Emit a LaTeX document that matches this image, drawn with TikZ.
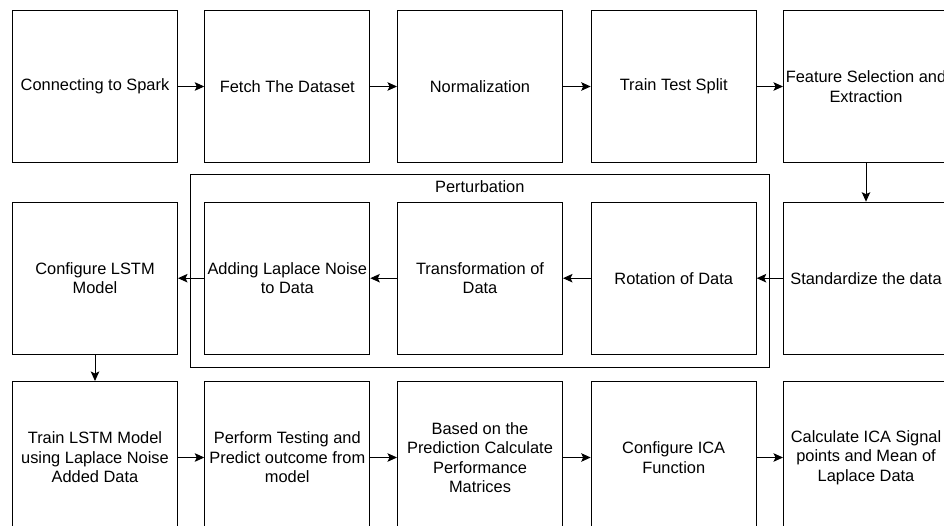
\documentclass[tikz,border=0pt]{standalone}
\usepackage{fontspec}
\setmainfont{Liberation Sans}
\usetikzlibrary{arrows.meta}
\begin{document}
\begin{tikzpicture}[x=1pt,y=-1pt,
  box/.style={draw, line width=1pt, minimum width=165pt, minimum height=152pt,
    inner sep=0pt, align=center, anchor=north west,
    font=\fontsize{16.4}{19.5}\selectfont},
  flow/.style={draw, line width=1pt, -{Stealth[length=9.5pt,width=8.5pt,inset=2pt]}},
  lbl/.style={font=\fontsize{16.4}{19.5}\selectfont, inner sep=0pt}
]
\useasboundingbox (0,0) rectangle (944,526);
\fill[white] (0,0) rectangle (944,526);

% perturbation group
\node[draw, line width=1pt, minimum width=579pt, minimum height=192.4pt,
      inner sep=0pt, anchor=north west] (pert) at (190.3,174.3) {};
\node[lbl] (pertlabel) at (479.8,186.7) {Perturbation};

% row 1
\node[box] (a1) at (12,10)    {Connecting to Spark};
\node[box] (a2) at (204.3,10) {Fetch The Dataset};
\node[box] (a3) at (397,10)   {Normalization};
\node[box] (a4) at (590.7,10) {Train Test Split};
\node[box] (a5) at (783,10)   {Feature Selection and\\Extraction};

% row 2
\node[box] (b1) at (12,201.7)    {Configure LSTM\\Model};
\node[box] (b2) at (204.3,201.7) {Adding Laplace Noise\\to Data};
\node[box] (b3) at (397,201.7)   {Transformation of\\Data};
\node[box] (b4) at (590.7,201.7) {Rotation of Data};
\node[box] (b5) at (783,201.7)   {Standardize the data};

% row 3
\node[box] (c1) at (12,381)    {Train LSTM Model\\using Laplace Noise\\Added Data};
\node[box] (c2) at (204.3,381) {Perform Testing and\\Predict outcome from\\model};
\node[box] (c3) at (397,381)   {Based on the\\Prediction Calculate\\Performance\\Matrices};
\node[box] (c4) at (590.7,381) {Configure ICA\\Function};
\node[box] (c5) at (783,381)   {Calculate ICA Signal\\points and Mean of\\Laplace Data};

% connectors
\draw[flow] (a1) -- (a2);
\draw[flow] (a2) -- (a3);
\draw[flow] (a3) -- (a4);
\draw[flow] (a4) -- (a5);
\draw[flow] (a5) -- (b5);
\draw[flow] (b5) -- (b4);
\draw[flow] (b4) -- (b3);
\draw[flow] (b3) -- (b2);
\draw[flow] (b2) -- (b1);
\draw[flow] (b1) -- (c1);
\draw[flow] (c1) -- (c2);
\draw[flow] (c2) -- (c3);
\draw[flow] (c3) -- (c4);
\draw[flow] (c4) -- (c5);
\end{tikzpicture}
\end{document}
